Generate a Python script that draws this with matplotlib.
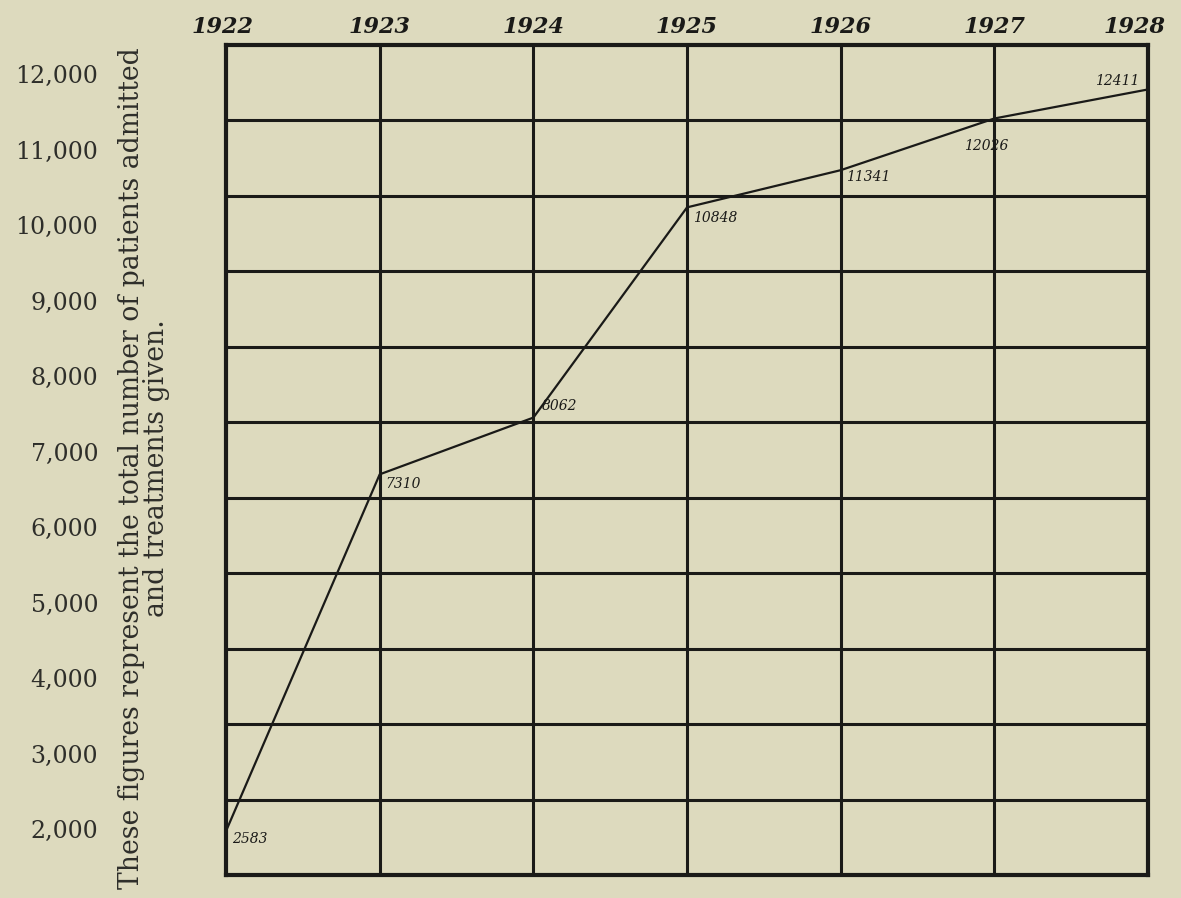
import matplotlib
matplotlib.use("Agg")
import matplotlib.pyplot as plt
from matplotlib.transforms import ScaledTranslation

years = [1922, 1923, 1924, 1925, 1926, 1927, 1928]
totals = [2583, 7310, 8062, 10848, 11341, 12026, 12411]
point_labels = ["2583", "7310", "8062", "10848", "11341", "12026", "12411"]
y_tick_values = [2000, 3000, 4000, 5000, 6000, 7000, 8000, 9000, 10000, 11000, 12000]
y_tick_labels = ["2,000", "3,000", "4,000", "5,000", "6,000", "7,000", "8,000",
                 "9,000", "10,000", "11,000", "12,000"]
grid_values = list(range(2000, 13001, 1000))
ylabel_text = ("These figures represent the total number of patients admitted\n"
               "and treatments given.")

paper = "#dddabe"
ink = "#1a1a18"
print_ink = "#2e2e2a"

fig = plt.figure(figsize=(11.81, 8.98), dpi=100, facecolor=paper)
ax = fig.add_axes([0.1914, 0.0256, 0.9721 - 0.1914, 0.9499 - 0.0256])
ax.set_facecolor(paper)

ax.set_xlim(years[0], years[-1])
ax.set_ylim(grid_values[0], grid_values[-1])

# grid
for g in grid_values[1:-1]:
    ax.axhline(g, color=ink, lw=2.2, zorder=1)
for yr in years[1:-1]:
    ax.axvline(yr, color=ink, lw=2.2, zorder=1)
for s in ax.spines.values():
    s.set_color(ink)
    s.set_linewidth(3.0)

# data line
ax.plot(years, totals, color=ink, lw=1.6, zorder=3, solid_joinstyle="round")

# point labels
offsets = [(4, -6), (4, -7), (6, 8), (4, -8), (4, -5), (-6, -20), (-6, 6)]
has = ["left", "left", "left", "left", "left", "center", "right"]
for x, y, lab, off, ha in zip(years, totals, point_labels, offsets, has):
    ax.annotate(lab, (x, y), xytext=off, textcoords="offset points",
                ha=ha, va="center", fontsize=10, style="italic",
                family="DejaVu Serif", color=ink, zorder=4)

# top year labels
ax.xaxis.tick_top()
ax.set_xticks(years)
ax.set_xticklabels([str(y) for y in years], fontsize=16, style="italic",
                   weight="bold", family="DejaVu Serif", color=ink)
ax.tick_params(axis="x", length=0, pad=5)
xl = ax.get_xticklabels()
xl[0].set_transform(xl[0].get_transform() + ScaledTranslation(-3 / 100, 0, fig.dpi_scale_trans))
xl[-1].set_transform(xl[-1].get_transform() + ScaledTranslation(-14 / 100, 0, fig.dpi_scale_trans))

# left value labels (printed about half a cell above their grid lines)
ax.set_yticks(y_tick_values)
ax.set_yticklabels(y_tick_labels, fontsize=17, family="DejaVu Serif", color=print_ink)
ax.tick_params(axis="y", length=0, pad=92)
shift = ScaledTranslation(0, 46 / 100, fig.dpi_scale_trans)
for lbl in ax.get_yticklabels():
    lbl.set_transform(lbl.get_transform() + shift)

ax.text(-0.089, 0.49, ylabel_text, transform=ax.transAxes, rotation=90,
        ha="center", va="center", multialignment="center", fontsize=19.2,
        family="DejaVu Serif", color=print_ink, linespacing=0.95)

fig.savefig("out.png", dpi=100, facecolor=paper)
